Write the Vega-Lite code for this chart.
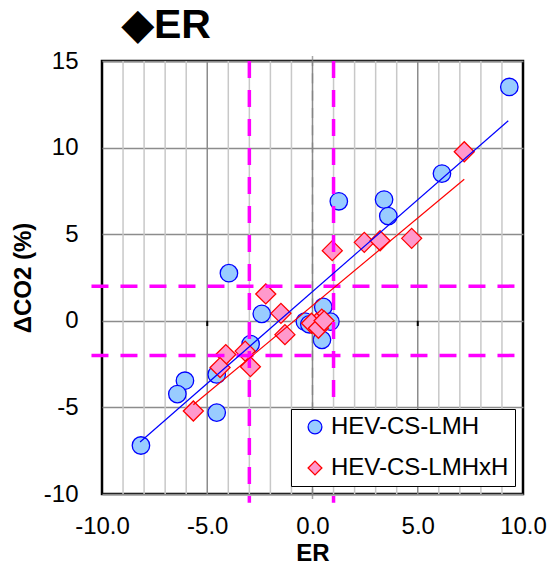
{
  "$schema": "https://vega.github.io/schema/vega-lite/v6.json",
  "width": 421,
  "height": 433,
  "autosize": "none",
  "padding": {"left": 102, "top": 61, "right": 25, "bottom": 70},
  "background": "white",
  "config": {
    "font": "Liberation Sans",
    "view": {"stroke": "black", "strokeWidth": 2.5},
    "axis": {"labelFontSize": 24, "labelColor": "black", "titleFontSize": 24, "titleFontWeight": "bold", "titleColor": "black", "ticks": false, "domain": false, "gridOpacity": 1, "labelFlush": false, "labelOverlap": false},
    "legend": {"orient": "bottom-right", "offset": 8, "strokeColor": "black", "strokeWidth": 1, "fillColor": "white", "padding": 6, "labelFontSize": 24, "labelColor": "black", "labelLimit": 400, "symbolSize": 190, "symbolStrokeWidth": 1.3, "symbolOffset": 6, "labelOffset": 4, "rowPadding": 17}
  },
  "title": {"text": "◆ER", "fontSize": 41, "fontWeight": "bold", "anchor": "start", "frame": "group", "dx": 20, "offset": 2, "color": "black"},
  "datasets": {
    "pts": [
      {"series": "HEV-CS-LMH", "er": 9.35, "co2": 13.5},
      {"series": "HEV-CS-LMH", "er": 6.15, "co2": 8.5},
      {"series": "HEV-CS-LMH", "er": 3.4, "co2": 7.0},
      {"series": "HEV-CS-LMH", "er": 3.6, "co2": 6.05},
      {"series": "HEV-CS-LMH", "er": 1.25, "co2": 6.9},
      {"series": "HEV-CS-LMH", "er": -3.97, "co2": 2.75},
      {"series": "HEV-CS-LMH", "er": -2.41, "co2": 0.4},
      {"series": "HEV-CS-LMH", "er": 0.51, "co2": 0.8},
      {"series": "HEV-CS-LMH", "er": -0.36, "co2": -0.05},
      {"series": "HEV-CS-LMH", "er": -0.15, "co2": -0.2},
      {"series": "HEV-CS-LMH", "er": 0.85, "co2": -0.05},
      {"series": "HEV-CS-LMH", "er": 0.45, "co2": -1.1},
      {"series": "HEV-CS-LMH", "er": -2.94, "co2": -1.35},
      {"series": "HEV-CS-LMH", "er": -4.55, "co2": -3.1},
      {"series": "HEV-CS-LMH", "er": -6.06, "co2": -3.46},
      {"series": "HEV-CS-LMH", "er": -6.42, "co2": -4.23},
      {"series": "HEV-CS-LMH", "er": -4.55, "co2": -5.3},
      {"series": "HEV-CS-LMH", "er": -8.15, "co2": -7.2},
      {"series": "HEV-CS-LMHxH", "er": 7.21, "co2": 9.76},
      {"series": "HEV-CS-LMHxH", "er": 0.94, "co2": 4.05},
      {"series": "HEV-CS-LMHxH", "er": 2.46, "co2": 4.53},
      {"series": "HEV-CS-LMHxH", "er": 3.21, "co2": 4.62},
      {"series": "HEV-CS-LMHxH", "er": 4.71, "co2": 4.76},
      {"series": "HEV-CS-LMHxH", "er": -2.22, "co2": 1.55},
      {"series": "HEV-CS-LMHxH", "er": -1.5, "co2": 0.43},
      {"series": "HEV-CS-LMHxH", "er": -1.31, "co2": -0.8},
      {"series": "HEV-CS-LMHxH", "er": -2.95, "co2": -2.65},
      {"series": "HEV-CS-LMHxH", "er": -3.2, "co2": -1.75},
      {"series": "HEV-CS-LMHxH", "er": -4.12, "co2": -1.95},
      {"series": "HEV-CS-LMHxH", "er": -4.39, "co2": -2.7},
      {"series": "HEV-CS-LMHxH", "er": -5.66, "co2": -5.21},
      {"series": "HEV-CS-LMHxH", "er": 0.44, "co2": 0.1},
      {"series": "HEV-CS-LMHxH", "er": 0.2, "co2": -0.14},
      {"series": "HEV-CS-LMHxH", "er": -0.05, "co2": -0.14},
      {"series": "HEV-CS-LMHxH", "er": 0.28, "co2": -0.43},
      {"series": "HEV-CS-LMHxH", "er": 0.55, "co2": 0.0}
    ],
    "fit": [
      {"series": "HEV-CS-LMH", "er": -8.19, "co2": -7.0},
      {"series": "HEV-CS-LMH", "er": 9.3, "co2": 11.55},
      {"series": "HEV-CS-LMHxH", "er": -5.66, "co2": -4.85},
      {"series": "HEV-CS-LMHxH", "er": 7.21, "co2": 8.17}
    ],
    "yt": [
      {"t": -10}, {"t": -9}, {"t": -8}, {"t": -7}, {"t": -6}, {"t": -5}, {"t": -4}, {"t": -3}, {"t": -2}, {"t": -1}, {"t": 0}, {"t": 1}, {"t": 2},
      {"t": 3}, {"t": 4}, {"t": 5}, {"t": 6}, {"t": 7}, {"t": 8}, {"t": 9}, {"t": 10}, {"t": 11}, {"t": 12}, {"t": 13}, {"t": 14}, {"t": 15}
    ],
    "xt": [{"x": -5}, {"x": 0}, {"x": 5}],
    "minor": [
      {"x": -9}, {"x": -8}, {"x": -7}, {"x": -6}, {"x": -4}, {"x": -3}, {"x": -2}, {"x": -1},
      {"x": 1}, {"x": 2}, {"x": 3}, {"x": 4}, {"x": 6}, {"x": 7}, {"x": 8}, {"x": 9}
    ],
    "major": [{"x": -5}, {"x": 0}, {"x": 5}],
    "vlines": [{"x": -3}, {"x": 1}],
    "hlines": [{"y": 2}, {"y": -2}]
  },
  "layer": [
    {
      "data": {"name": "minor"},
      "mark": {"type": "rule", "color": "#c8c8c8", "strokeWidth": 1.5},
      "encoding": {
        "x": {"field": "x", "type": "quantitative", "scale": {"domain": [-10, 10], "nice": false, "zero": false},
          "axis": {"title": "ER", "values": [-10, -5, 0, 5, 10], "grid": false,
            "labelExpr": "replace(format(datum.value, '.1f'), '\u2212', '-')",
            "labelPadding": 20, "titlePadding": 3}}
      }
    },
    {
      "data": {"name": "major"},
      "mark": {"type": "rule", "color": "#8c8c8c", "strokeWidth": 1.5},
      "encoding": {
        "x": {"field": "x", "type": "quantitative", "scale": {"domain": [-10, 10], "nice": false, "zero": false}}
      }
    },
    {
      "data": {"name": "pts"},
      "transform": [{"filter": "datum.series === 'HEV-CS-LMH'"}],
      "mark": {"type": "point", "opacity": 1, "strokeWidth": 1.3, "size": 305},
      "encoding": {
        "x": {"field": "er", "type": "quantitative", "scale": {"domain": [-10, 10], "nice": false, "zero": false}},
        "y": {"field": "co2", "type": "quantitative", "scale": {"domain": [-10, 15], "nice": false, "zero": false},
          "axis": {"title": "ΔCO2 (%)", "values": [-10, -5, 0, 5, 10, 15], "labelExpr": "replace(datum.label, '\u2212', '-')", "labelPadding": 24, "titlePadding": 8, "gridWidth": 1.5, "gridColor": "#8c8c8c"}},
        "shape": {"field": "series", "type": "nominal", "scale": {"domain": ["HEV-CS-LMH", "HEV-CS-LMHxH"], "range": ["circle", "diamond"]}, "legend": {"title": null}},
        "fill": {"field": "series", "type": "nominal", "scale": {"domain": ["HEV-CS-LMH", "HEV-CS-LMHxH"], "range": ["#99ccff", "#ff99cc"]}, "legend": {"title": null}},
        "stroke": {"field": "series", "type": "nominal", "scale": {"domain": ["HEV-CS-LMH", "HEV-CS-LMHxH"], "range": ["#0000ff", "#ff0000"]}, "legend": {"title": null}}
      }
    },
    {
      "data": {"name": "yt"},
      "mark": {"type": "tick", "orient": "vertical", "size": 10, "thickness": 1.5, "color": "#808080"},
      "encoding": {
        "x": {"datum": 0, "type": "quantitative", "scale": {"domain": [-10, 10], "nice": false, "zero": false}},
        "y": {"field": "t", "type": "quantitative", "scale": {"domain": [-10, 15], "nice": false, "zero": false}}
      }
    },
    {
      "mark": {"type": "rule", "color": "black", "strokeWidth": 2.5},
      "encoding": {"y": {"datum": 0, "type": "quantitative", "scale": {"domain": [-10, 15], "nice": false, "zero": false}}}
    },
    {
      "data": {"name": "xt"},
      "mark": {"type": "rule", "color": "black", "strokeWidth": 2},
      "encoding": {
        "x": {"field": "x", "type": "quantitative", "scale": {"domain": [-10, 10], "nice": false, "zero": false}},
        "y": {"datum": 0, "type": "quantitative", "scale": {"domain": [-10, 15], "nice": false, "zero": false}},
        "y2": {"datum": -0.3}
      }
    },
    {
      "data": {"name": "pts"},
      "transform": [{"filter": "datum.series === 'HEV-CS-LMHxH'"}],
      "mark": {"type": "point", "opacity": 1, "strokeWidth": 1.3, "size": 400},
      "encoding": {
        "x": {"field": "er", "type": "quantitative", "scale": {"domain": [-10, 10], "nice": false, "zero": false}},
        "y": {"field": "co2", "type": "quantitative", "scale": {"domain": [-10, 15], "nice": false, "zero": false}},
        "shape": {"field": "series", "type": "nominal", "scale": {"domain": ["HEV-CS-LMH", "HEV-CS-LMHxH"], "range": ["circle", "diamond"]}, "legend": {"title": null}},
        "fill": {"field": "series", "type": "nominal", "scale": {"domain": ["HEV-CS-LMH", "HEV-CS-LMHxH"], "range": ["#99ccff", "#ff99cc"]}, "legend": {"title": null}},
        "stroke": {"field": "series", "type": "nominal", "scale": {"domain": ["HEV-CS-LMH", "HEV-CS-LMHxH"], "range": ["#0000ff", "#ff0000"]}, "legend": {"title": null}}
      }
    },
    {
      "data": {"name": "vlines"},
      "mark": {"type": "rule", "color": "#ff00ff", "strokeWidth": 3.5, "strokeDash": [17, 12]},
      "encoding": {
        "x": {"field": "x", "type": "quantitative", "scale": {"domain": [-10, 10], "nice": false, "zero": false}},
        "y": {"datum": 15, "type": "quantitative", "scale": {"domain": [-10, 15], "nice": false, "zero": false}},
        "y2": {"datum": -10.5}
      }
    },
    {
      "data": {"name": "hlines"},
      "mark": {"type": "rule", "color": "#ff00ff", "strokeWidth": 3.5, "strokeDash": [17, 12]},
      "encoding": {
        "y": {"field": "y", "type": "quantitative", "scale": {"domain": [-10, 15], "nice": false, "zero": false}},
        "x": {"datum": -10.5, "type": "quantitative", "scale": {"domain": [-10, 10], "nice": false, "zero": false}},
        "x2": {"datum": 10}
      }
    },
    {
      "data": {"name": "fit"},
      "transform": [{"filter": "datum.series === 'HEV-CS-LMH'"}],
      "mark": {"type": "line", "color": "#0000ff", "strokeWidth": 1.2},
      "encoding": {
        "x": {"field": "er", "type": "quantitative", "scale": {"domain": [-10, 10], "nice": false, "zero": false}},
        "y": {"field": "co2", "type": "quantitative", "scale": {"domain": [-10, 15], "nice": false, "zero": false}}
      }
    },
    {
      "data": {"name": "fit"},
      "transform": [{"filter": "datum.series === 'HEV-CS-LMHxH'"}],
      "mark": {"type": "line", "color": "#ff0000", "strokeWidth": 1.2},
      "encoding": {
        "x": {"field": "er", "type": "quantitative", "scale": {"domain": [-10, 10], "nice": false, "zero": false}},
        "y": {"field": "co2", "type": "quantitative", "scale": {"domain": [-10, 15], "nice": false, "zero": false}}
      }
    }
  ]
}
